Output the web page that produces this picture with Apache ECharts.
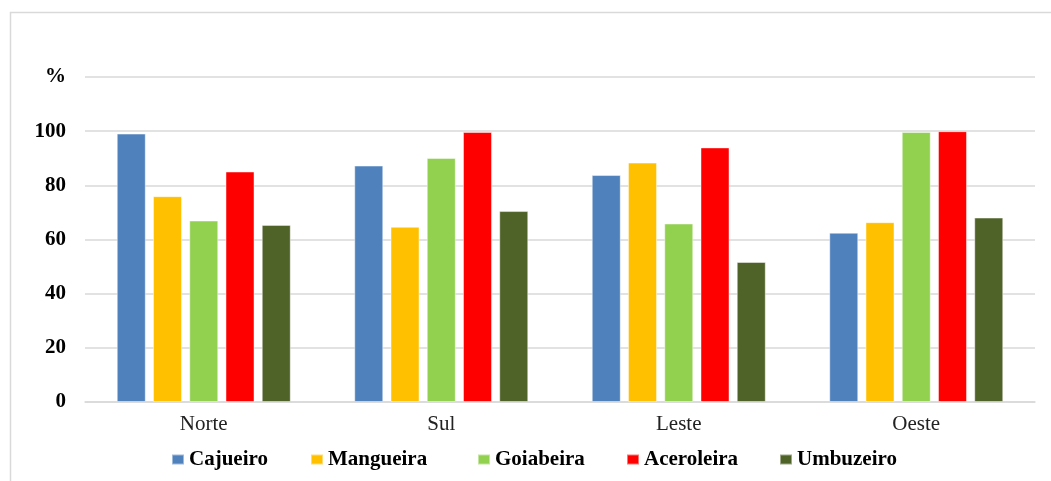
<!DOCTYPE html>
<html>
<head>
<meta charset="utf-8">
<script src="https://cdn.jsdelivr.net/npm/echarts@6/dist/echarts.min.js"></script>
<style>
  html, body { margin: 0; padding: 0; background: #fff; }
  #chart { width: 1051px; height: 481px; }
</style>
</head>
<body>
<div id="chart"></div>
<script>
// Regions and species
const regions = ['Norte', 'Sul', 'Leste', 'Oeste'];
const species = ['Cajueiro', 'Mangueira', 'Goiabeira', 'Aceroleira', 'Umbuzeiro'];
const colors = ['#4F81BD', '#FFC000', '#92D050', '#FF0000', '#4F6228'];

// Percentages per species, in region order
const cajueiro   = [99.1, 87.3, 83.8, 62.5];
const mangueira  = [76.0, 64.7, 88.4, 66.4];
const goiabeira  = [67.0, 90.1, 65.9, 99.7];
const aceroleira = [85.1, 99.7, 94.0, 100.0];
const umbuzeiro  = [65.4, 70.5, 51.7, 68.1];

// Y axis: top tick shows the unit instead of a number
const yTickLabels = { 0: '0', 20: '20', 40: '40', 60: '60', 80: '80', 100: '100', 120: '%' };

const values = [cajueiro, mangueira, goiabeira, aceroleira, umbuzeiro];
const font = '"Liberation Serif", "Times New Roman", serif';

// Legend entries laid out in one row below the axis
const legendLeft = [171, 310, 477, 626, 779];

const chart = echarts.init(document.getElementById('chart'), null, { renderer: 'canvas' });

chart.setOption({
  animation: false,
  backgroundColor: '#ffffff',
  color: colors,
  textStyle: { fontFamily: font },
  graphic: [
    {
      type: 'polyline',
      shape: { points: [[10.5, 481], [10.5, 12.5], [1051, 12.5]] },
      style: { stroke: '#d9d9d9', lineWidth: 1.5, fill: null }
    }
  ],
  grid: { left: 85, right: 16, top: 77, bottom: 79, containLabel: false },
  legend: species.map((name, i) => ({
    data: [name],
    left: legendLeft[i],
    top: 449,
    padding: 0,
    itemWidth: 12,
    itemHeight: 10,
    icon: 'rect',
    textStyle: { fontFamily: font, fontSize: 21, fontWeight: 'bold', color: '#000' }
  })),
  xAxis: {
    type: 'category',
    data: regions,
    axisLine: { show: true, lineStyle: { color: '#d9d9d9', width: 1.5 } },
    axisTick: { show: false },
    axisLabel: { fontFamily: font, fontSize: 21, color: '#222', margin: 12 }
  },
  yAxis: {
    type: 'value',
    min: 0,
    max: 120,
    interval: 20,
    axisLine: { show: false },
    axisTick: { show: false },
    splitLine: { lineStyle: { color: '#d9d9d9', width: 1.5 } },
    axisLabel: {
      fontFamily: font, fontSize: 21, fontWeight: 'bold', color: '#000', margin: 19,
      formatter: v => yTickLabels[v] ?? ''
    }
  },
  series: species.map((name, i) => ({
    name,
    type: 'bar',
    data: values[i],
    barWidth: 29,
    barGap: '25%',
    itemStyle: { color: colors[i], borderColor: 'rgba(255,255,255,0.45)', borderWidth: 1 }
  }))
});
</script>
</body>
</html>
